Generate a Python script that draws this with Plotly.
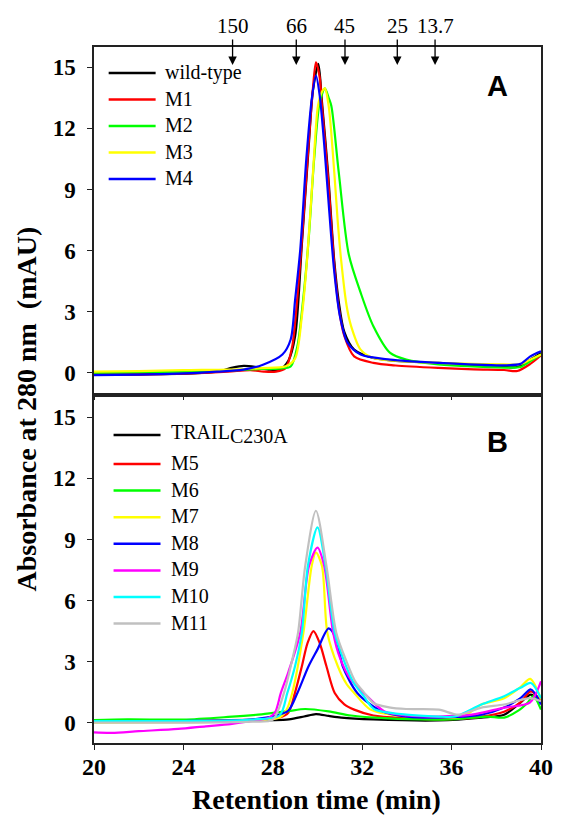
import plotly.graph_objects as go

# ---------------- data ----------------
# Panel A
A_NAMES = ["wild-type", "M1", "M2", "M3", "M4"]
A_COLORS = ["#000000", "#ff0000", "#00ff00", "#ffff00", "#0000ff"]

wt_x = [20, 22, 24, 25.5, 26.2, 26.7, 27.2, 27.8, 28.3, 28.7, 29.0, 29.3, 29.6, 29.8, 30.04, 30.2, 30.47, 30.75, 30.95, 31.2, 31.64, 32.5, 33.5, 35.4, 37, 38.35, 38.94, 39.52, 40]
wt_y = [-0.1, -0.08, -0.05, 0.05, 0.25, 0.33, 0.28, 0.15, 0.15, 0.6, 1.8, 6.3, 11, 13.9, 15.17, 13.3, 9.85, 5.5, 3.5, 2.0, 1.13, 0.72, 0.58, 0.48, 0.38, 0.28, 0.28, 0.64, 0.97]

m1_x = [20, 22, 24, 26, 27, 27.6, 28.14, 28.58, 28.87, 29.09, 29.3, 29.6, 29.79, 29.93, 30.1, 30.2, 30.47, 30.75, 30.95, 31.2, 31.64, 32.5, 33.5, 35.4, 37, 38.35, 38.94, 39.52, 40]
m1_y = [-0.1, -0.1, -0.05, 0.05, 0.12, 0.05, 0.05, 0.23, 1.3, 3.6, 6.5, 11.2, 13.9, 15.25, 14.5, 13.1, 9.6, 5.3, 3.2, 1.8, 0.8, 0.48, 0.35, 0.23, 0.16, 0.13, 0.08, 0.43, 0.85]

m2_x = [20, 22, 24, 26, 27.5, 28.3, 28.8, 29.1, 29.35, 29.6, 29.85, 30.1, 30.33, 30.5, 30.62, 30.95, 31.4, 31.93, 32.5, 33.25, 33.97, 35.4, 38.35, 39.08, 39.52, 40]
m2_y = [0.0, 0.02, 0.05, 0.1, 0.18, 0.2, 0.3, 1.3, 3.5, 6.5, 10.5, 13.3, 13.97, 13.5, 13.1, 9.85, 5.8, 3.93, 2.28, 0.97, 0.64, 0.41, 0.25, 0.28, 0.56, 0.89]

m3_x = [20, 22, 24, 26, 27.5, 28.58, 29.0, 29.3, 29.53, 29.8, 30.02, 30.2, 30.33, 30.5, 30.75, 30.9, 31.06, 31.3, 31.5, 31.93, 32.5, 35.4, 38.35, 39.08, 39.52, 40]
m3_y = [0.05, 0.07, 0.12, 0.15, 0.22, 0.31, 0.7, 2.77, 5.5, 9.85, 13.1, 13.8, 13.97, 13.1, 9.85, 7.5, 5.5, 3.3, 2.3, 1.13, 0.72, 0.48, 0.41, 0.41, 0.64, 0.89]

m4_x = [20, 22, 23.76, 25.5, 26.68, 27.56, 28.43, 28.8, 29.0, 29.23, 29.5, 29.75, 29.93, 30.1, 30.3, 30.5, 30.74, 31.0, 31.35, 31.93, 33.25, 35.4, 38.35, 39.08, 39.52, 40]
m4_y = [-0.12, -0.1, -0.05, 0.05, 0.15, 0.39, 0.89, 1.63, 3.6, 6.06, 10.5, 13.5, 14.6, 13.6, 11.2, 8.3, 5.07, 2.8, 1.46, 0.89, 0.64, 0.48, 0.36, 0.43, 0.8, 1.05]

A_X = [wt_x, m1_x, m2_x, m3_x, m4_x]
A_Y = [wt_y, m1_y, m2_y, m3_y, m4_y]

# Panel B
B_NAMES = ["TRAIL<sub><span style='font-size:20px'>C230A</span></sub>", "M5", "M6", "M7", "M8", "M9", "M10", "M11"]
B_COLORS = ["#000000", "#ff0000", "#00ff00", "#ffff00", "#0000ff", "#ff00ff", "#00ffff", "#c0c0c0"]

t_x = [20, 24, 28, 28.72, 29.4, 29.93, 30.5, 31.06, 32.5, 35.4, 37.33, 38.35, 39.08, 39.55, 40]
t_y = [0.08, 0.08, 0.12, 0.16, 0.3, 0.42, 0.33, 0.25, 0.16, 0.11, 0.25, 0.39, 0.98, 1.38, 0.98]

m5_x = [20, 24, 27, 28.3, 28.7, 28.99, 29.3, 29.55, 29.82, 30.1, 30.4, 30.77, 31.2, 31.64, 32.5, 34, 35.4, 37.33, 38.35, 39.08, 39.55, 40]
m5_y = [0.08, 0.1, 0.15, 0.25, 0.5, 1.46, 2.77, 3.9, 4.5, 3.9, 2.77, 1.46, 0.9, 0.64, 0.35, 0.22, 0.16, 0.3, 0.54, 1.0, 1.54, 1.05]

m6_x = [20, 21.5, 24, 26, 27.5, 28.7, 29.45, 30.5, 31.5, 33, 35.4, 36.5, 37.6, 38.35, 39.0, 39.4, 39.66, 40]
m6_y = [0.12, 0.16, 0.15, 0.28, 0.41, 0.57, 0.67, 0.55, 0.35, 0.22, 0.15, 0.2, 0.3, 0.25, 0.6, 0.98, 1.3, 0.64]

m7_x = [20, 24, 27, 28.3, 28.6, 28.87, 29.37, 29.74, 29.93, 30.2, 30.44, 30.91, 31.3, 31.64, 32.37, 33.5, 35.4, 36.5, 37.33, 38.35, 39.08, 39.52, 40]
m7_y = [0.0, 0.02, 0.08, 0.25, 0.6, 1.46, 4.42, 7.7, 8.36, 7.7, 4.42, 2.77, 1.9, 1.46, 0.64, 0.35, 0.25, 0.3, 0.89, 1.2, 1.75, 2.15, 1.15]

m8_x = [20, 24, 27, 28.1, 28.7, 29.1, 29.6, 30.0, 30.5, 30.84, 31.13, 31.78, 32.8, 34, 35.4, 37.33, 38.35, 39.08, 39.55, 40]
m8_y = [0.08, 0.08, 0.15, 0.33, 0.6, 1.46, 2.77, 3.6, 4.63, 4.1, 2.77, 1.46, 0.6, 0.3, 0.25, 0.39, 0.74, 1.2, 1.63, 0.89]

m9_x = [20, 20.8, 22, 23.76, 25, 26.1, 27, 27.8, 28.1, 28.36, 28.7, 29.23, 29.62, 30.0, 30.3, 30.7, 31.0, 31.5, 32.07, 33, 34, 35.4, 36.9, 38.35, 39.5, 40]
m9_y = [-0.48, -0.5, -0.42, -0.31, -0.18, -0.07, 0.07, 0.23, 0.5, 1.46, 2.5, 4.42, 7.7, 8.6, 7.7, 4.42, 3.2, 2.1, 1.46, 0.55, 0.35, 0.3, 0.39, 0.74, 0.98, 2.03]

m10_x = [20, 24, 27, 28.3, 28.65, 29.0, 29.3, 29.57, 30.0, 30.36, 30.77, 31.2, 31.6, 32.07, 32.52, 33.97, 35.4, 36.16, 37.33, 38.35, 39.08, 39.55, 40]
m10_y = [0.08, 0.08, 0.15, 0.35, 1.46, 2.8, 4.42, 7.7, 9.59, 7.7, 4.42, 3.0, 2.0, 1.3, 0.67, 0.39, 0.3, 0.3, 0.89, 1.3, 1.71, 1.95, 1.2]

m11_x = [20, 24, 27, 28.0, 28.5, 28.85, 29.13, 29.45, 29.93, 30.4, 30.84, 31.3, 31.7, 32.07, 32.52, 33.2, 33.97, 35.43, 36.3, 37.33, 38.35, 39.5, 40]
m11_y = [0.0, 0.0, 0.05, 0.15, 1.46, 3.0, 4.42, 7.7, 10.41, 7.7, 4.42, 3.0, 2.0, 1.5, 0.95, 0.75, 0.67, 0.64, 0.39, 0.74, 0.89, 1.2, 1.05]

B_X = [t_x, m5_x, m6_x, m7_x, m8_x, m9_x, m10_x, m11_x]
B_Y = [t_y, m5_y, m6_y, m7_y, m8_y, m9_y, m10_y, m11_y]

MW_LABELS = ["150", "66", "45", "25", "13.7"]
MW_POS = [26.2, 29.05, 31.23, 33.57, 35.26]

X_TICKS = [20, 24, 28, 32, 36, 40]
Y_TICKS = [0, 3, 6, 9, 12, 15]

# ---------------- layout helpers ----------------
W, H = 565, 815
L, R, T, B = 94, 14, 47, 72
PW, PH = W - L - R, H - T - B

def fx(px):
    return (px - L) / PW

def fy(py):
    return (H - B - py) / PH

SERIF = "Liberation Serif"
SANS = "Liberation Sans"
AXC = "#222222"

fig = go.Figure()

for xs, ys, c, n in zip(A_X, A_Y, A_COLORS, A_NAMES):
    fig.add_trace(go.Scatter(x=xs, y=ys, mode="lines", name=n, showlegend=False,
                             line=dict(color=c, width=2.2, shape="spline", smoothing=0.8),
                             xaxis="x", yaxis="y"))
for xs, ys, c, n in zip(B_X, B_Y, B_COLORS, B_NAMES):
    fig.add_trace(go.Scatter(x=xs, y=ys, mode="lines", name=n, showlegend=False,
                             line=dict(color=c, width=2.2, shape="spline", smoothing=0.8),
                             xaxis="x2", yaxis="y2"))

axis_common = dict(showline=True, mirror=True, linecolor=AXC, linewidth=1.5,
                   ticks="outside", ticklen=5, tickwidth=1.3, tickcolor=AXC,
                   showgrid=False, zeroline=False)

fig.update_layout(
    width=W, height=H,
    margin=dict(l=L, r=R, t=T, b=B),
    paper_bgcolor="white", plot_bgcolor="white",
    xaxis=dict(domain=[0, 1], anchor="y", range=[20, 40], tickvals=X_TICKS,
               showticklabels=False, **axis_common),
    yaxis=dict(domain=[fy(393), 1], anchor="x", range=[-1, 16], tickvals=Y_TICKS,
               tickfont=dict(family=SERIF, size=23, color="black", weight="bold"),
               ticklabelstandoff=7, **axis_common),
    xaxis2=dict(domain=[0, 1], anchor="y2", range=[20, 40], tickvals=X_TICKS,
                tickfont=dict(family=SERIF, size=24, color="black", weight="bold"),
                ticklabelstandoff=-4, **axis_common),
    yaxis2=dict(domain=[0, fy(397)], anchor="x2", range=[-1, 16], tickvals=Y_TICKS,
                tickfont=dict(family=SERIF, size=23, color="black", weight="bold"),
                ticklabelstandoff=7, **axis_common),
)

ann = []
shapes = []

# axis titles
ann.append(dict(text="Absorbance at 280 nm&nbsp;&nbsp;(mAU)", xref="paper", yref="paper",
                x=fx(24), y=fy(409), textangle=-90, showarrow=False,
                xanchor="center", yanchor="middle",
                font=dict(family=SERIF, size=28, color="black", weight="bold")))
ann.append(dict(text="Retention time (min)", xref="paper", yref="paper",
                x=fx(321), y=fy(799), showarrow=False, xanchor="center", yanchor="middle",
                font=dict(family=SERIF, size=28, color="black", weight="bold")))

# panel letters
ann.append(dict(text="A", xref="paper", yref="paper", x=fx(507), y=fy(86), showarrow=False,
                xanchor="center", yanchor="middle",
                font=dict(family=SANS, size=29, color="black", weight="bold")))
ann.append(dict(text="B", xref="paper", yref="paper", x=fx(507), y=fy(442), showarrow=False,
                xanchor="center", yanchor="middle",
                font=dict(family=SANS, size=29, color="black", weight="bold")))

# molecular-weight markers
for lab, pos in zip(MW_LABELS, MW_POS):
    ann.append(dict(text=lab, x=pos, xref="x", y=fy(65), yref="paper",
                    showarrow=True, ax=0, ay=-39, arrowhead=2, arrowsize=1.3,
                    arrowwidth=1.3, arrowcolor="black",
                    font=dict(family=SERIF, size=21, color="black")))

# legends (manual)
def add_legend(names, colors, ys, x0, x1, xt):
    for n, c, yy in zip(names, colors, ys):
        shapes.append(dict(type="line", xref="paper", yref="paper",
                           x0=fx(x0), x1=fx(x1), y0=fy(yy), y1=fy(yy),
                           line=dict(color=c, width=2.5)))
        ann.append(dict(text=n, xref="paper", yref="paper", x=fx(xt), y=fy(yy - 1),
                        xanchor="left", yanchor="middle", showarrow=False,
                        font=dict(family=SERIF, size=20, color="black")))

add_legend(A_NAMES, A_COLORS, [73 + 26.5 * i for i in range(5)], 109, 157, 165)
add_legend(B_NAMES, B_COLORS, [435] + [464 + 26.6 * i for i in range(7)], 114, 162, 171)

fig.update_layout(annotations=ann, shapes=shapes)

fig.write_html("out.html", config={"displayModeBar": False},
               post_script="document.body.style.margin='0px';")
